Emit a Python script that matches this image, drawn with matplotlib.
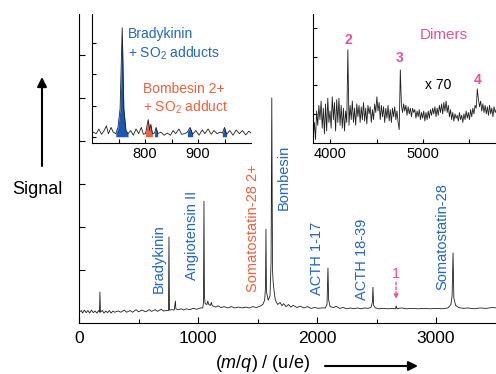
import matplotlib
matplotlib.use("Agg")
import matplotlib.pyplot as plt
import numpy as np

plt.rcParams['font.family'] = ['Liberation Sans', 'DejaVu Sans']
plt.rcParams['mathtext.fontset'] = 'custom'
plt.rcParams['mathtext.rm'] = 'Liberation Sans'
plt.rcParams['mathtext.it'] = 'Liberation Sans:italic'

BLUE = '#2266c4'
FILLBLUE = '#1a58b8'
ORANGE = '#f2603c'
PINK = '#ec4f9f'

# main spectrum (m/z, signal)
main_mz = [0, 20, 30, 45, 60, 75, 90, 105, 120, 135, 150, 165, 172, 176, 180, 195, 210, 225, 240,
           255, 270, 285, 300, 330, 350, 380, 400, 430, 450, 480, 500, 530, 560, 590, 610, 640,
           660, 690, 710, 740, 752, 756, 760, 780, 800, 806, 810, 814, 830, 860, 880, 900, 930,
           960, 990, 1020, 1040, 1046, 1050, 1054, 1060, 1075, 1082, 1090, 1105, 1112, 1120,
           1150, 1170, 1190, 1220, 1250, 1280, 1310, 1340, 1370, 1400, 1430, 1460, 1490, 1520,
           1545, 1560, 1567, 1571, 1575, 1590, 1605, 1614, 1620, 1626, 1632, 1640, 1650, 1670,
           1690, 1705, 1720, 1740, 1760, 1780, 1800, 1830, 1860, 1890, 1920, 1950, 1980, 2010,
           2040, 2070, 2084, 2092, 2098, 2110, 2140, 2160, 2190, 2220, 2250, 2280, 2310, 2340,
           2370, 2400, 2430, 2455, 2465, 2470, 2476, 2490, 2520, 2560, 2600, 2640, 2660, 2665,
           2672, 2710, 2750, 2800, 2850, 2900, 2950, 3000, 3050, 3100, 3125, 3135, 3143, 3150,
           3165, 3190, 3230, 3270, 3320, 3370, 3420, 3470, 3510]
main_sig = [0.02, 0.06, 0.0, 0.07, 0.01, 0.06, 0.0, 0.07, 0.01, 0.05, 0.0, 0.06, 0.02, 0.49, 0.02,
            0.06, 0.0, 0.05, 0.01, 0.06, 0.0, 0.05, 0.02, 0.05, 0.02, 0.07, 0.02, 0.06, 0.02, 0.08,
            0.03, 0.07, 0.03, 0.08, 0.04, 0.08, 0.04, 0.09, 0.05, 0.06, 0.06, 1.77, 0.07, 0.08,
            0.07, 0.2, 0.28, 0.1, 0.08, 0.1, 0.07, 0.1, 0.08, 0.11, 0.09, 0.12, 0.12, 0.25, 2.6,
            0.4, 0.22, 0.2, 0.28, 0.2, 0.18, 0.25, 0.17, 0.14, 0.17, 0.13, 0.15, 0.12, 0.15, 0.12,
            0.14, 0.12, 0.14, 0.12, 0.15, 0.13, 0.16, 0.2, 0.3, 0.6, 1.95, 0.5, 0.3, 0.4, 1.2, 5.0,
            1.0, 0.7, 0.5, 0.3, 0.2, 0.25, 0.17, 0.22, 0.15, 0.2, 0.14, 0.18, 0.13, 0.16, 0.12,
            0.15, 0.11, 0.13, 0.11, 0.12, 0.12, 0.2, 1.05, 0.3, 0.15, 0.13, 0.16, 0.11, 0.13, 0.1,
            0.12, 0.1, 0.12, 0.1, 0.12, 0.11, 0.14, 0.25, 0.6, 0.18, 0.12, 0.1, 0.11, 0.1, 0.11,
            0.1, 0.17, 0.1, 0.12, 0.1, 0.11, 0.1, 0.11, 0.1, 0.11, 0.1, 0.12, 0.2, 0.4, 1.4, 0.35,
            0.18, 0.13, 0.11, 0.12, 0.1, 0.12, 0.11, 0.13, 0.12]

# peak labels in the main panel
lab_text = ['Bradykinin', 'Angiotensin II', 'Somatostatin-28 2+', 'Bombesin',
            'ACTH 1-17', 'ACTH 18-39', 'Somatostatin-28']
lab_mz = [672, 950, 1462, 1723, 2000, 2378, 3050]
lab_y = [0.47, 0.77, 0.49, 2.4, 0.42, 0.3, 0.53]
lab_col = [BLUE, BLUE, ORANGE, BLUE, BLUE, BLUE, BLUE]

# inset 1: zoom on 700-1000
in1_mz = [702, 708, 713, 718, 723, 727, 731, 736, 740, 745, 749, 753, 757, 760, 764, 768, 773, 778,
          783, 788, 793, 797, 801, 806, 809, 811, 814, 818, 821, 824, 830, 836, 842, 848, 853, 858,
          864, 869, 875, 880, 885, 890, 896, 902, 908, 913, 919, 925, 930, 936, 942, 946, 950, 954,
          960, 966, 972, 978, 984, 990, 996, 1000]
in1_sig = [0.15, 0.1, 0.25, 0.08, 0.2, 0.35, 0.1, 0.3, 0.15, 0.1, 0.3, 0.9, 3.5, 0.9, 0.2, 0.1,
           0.2, 0.05, 0.25, 0.1, 0.3, 0.08, 0.1, 0.55, 0.2, 0.4, 0.1, 0.12, 0.3, 0.1, 0.15, 0.05,
           0.12, 0.05, 0.2, 0.1, 0.25, 0.08, 0.1, 0.15, 0.3, 0.08, 0.2, 0.05, 0.22, 0.1, 0.25, 0.08,
           0.2, 0.1, 0.15, 0.12, 0.3, 0.08, 0.2, 0.05, 0.22, 0.1, 0.2, 0.06, 0.18, 0.12]
fill_lo = [745, 801, 815, 838, 878, 944]
fill_hi = [768, 814, 825, 846, 891, 955]
fill_col = [FILLBLUE, ORANGE, FILLBLUE, ORANGE, FILLBLUE, FILLBLUE]

# inset 2: dimers region, x 70, sampled every 12 u/e from 3820
in2_start = 3820
in2_step = 12
in2_sig = [-0.8, -0.3, -0.9, 0.1, -0.4, 0.3, -0.2, 0.45, -0.5, 0.2, -0.7, 0.35, -0.6, 0.55, -0.3,
           0.1, -0.5, 0.6, -0.2, 0.4, -0.6, 0.5, -0.3, 0.55, -0.4, 0.3, -0.5, 0.2, -0.6, 0.1, -0.3,
           2.25, -0.4, 0.3, -0.2, 0.45, -0.3, 0.2, -0.4, 0.35, -0.1, 0.3, -0.3, 0.25, -0.2, 0.4,
           -0.25, 0.2, -0.35, 0.3, 0.0, 0.25, -0.3, 0.15, -0.2, 0.35, 0.05, 0.6, 0.1, 0.4, -0.2,
           0.3, -0.1, 0.25, -0.3, 0.2, -0.15, 0.3, -0.25, 0.15, -0.3, 0.2, -0.1, 0.25, -0.2, 0.1,
           -0.3, -0.55, 1.54, 0.3, 0.05, 0.35, 0.1, 0.3, -0.05, 0.25, 0.0, 0.2, -0.1, 0.2, 0.05,
           0.15, -0.15, 0.1, -0.1, 0.15, -0.2, 0.05, -0.15, 0.1, -0.25, 0.05, -0.2, 0.1, -0.15,
           0.15, -0.05, 0.2, 0.0, 0.25, -0.1, 0.2, -0.05, 0.3, 0.05, 0.35, 0.0, 0.4, 0.1, 0.45,
           0.05, 0.3, -0.1, 0.15, -0.2, 0.05, -0.25, 0.0, -0.15, -0.05, -0.25, 0.05, -0.2, -0.05,
           -0.3, 0.0, -0.2, 0.1, -0.15, 0.05, -0.2, 0.15, -0.1, 0.2, 0.0, 0.3, 0.2, 0.88, 0.5, 0.25,
           0.45, 0.1, 0.35, 0.05, 0.3, 0.0, 0.25, -0.05, 0.3, 0.0, 0.2, -0.1, 0.25, 0.05, 0.15]
dimer_lab = ['2', '3', '4']
dimer_mz = [4194, 4753, 5591]
dimer_y = [2.6, 1.95, 1.2]

W, H = 496, 374


def fx(x):
    return x / W


def fy(y):
    return 1 - y / H


fig = plt.figure(figsize=(W / 100, H / 100), dpi=100)

# ---- main panel
ax = fig.add_axes([fx(79), fy(323), 1 - fx(79), (323 - 14) / H])
ax.plot(main_mz, main_sig, color='#1e1e1e', lw=0.6)
ax.set_xlim(0, 3504)
ax.set_ylim(-0.23, 6.95)
ax.set_xticks([0, 1000, 2000, 3000])
ax.set_xticks([500, 1500, 2500], minor=True)
ax.set_yticks([1, 2, 3, 4, 5, 6])
ax.set_yticklabels([])
ax.tick_params(direction='in', length=4, width=0.8, labelsize=12.5, pad=6)
ax.tick_params(which='minor', direction='in', length=3, width=0.8)
ax.spines['top'].set_visible(False)
ax.spines['right'].set_visible(False)

for t, x, y, c in zip(lab_text, lab_mz, lab_y, lab_col):
    ax.text(x, y, t, rotation=90, ha='center', va='bottom', color=c, fontsize=10.5)

# dashed pink marker "1"
ax.text(2664, 0.9, '1', color=PINK, ha='center', va='center', fontsize=10.5)
ax.annotate('', xy=(2664, 0.33), xytext=(2664, 0.72),
            arrowprops=dict(arrowstyle='-|>', color=PINK, lw=1, ls=(0, (2, 1.5)),
                            mutation_scale=6, shrinkA=0, shrinkB=0))

# ---- inset 1
a1 = fig.add_axes([fx(92), fy(143), (251 - 92) / W, (143 - 14) / H])
a1.plot(in1_mz, in1_sig, color='#1e1e1e', lw=0.6)
x1 = np.array(in1_mz)
y1 = np.array(in1_sig)
for lo, hi, c in zip(fill_lo, fill_hi, fill_col):
    m = (x1 >= lo) & (x1 <= hi)
    a1.fill_between(x1[m], y1[m], 0, color=c, lw=0)
a1.set_xlim(700, 1000)
a1.set_ylim(-0.2, 3.94)
a1.set_xticks([800, 900])
a1.set_xticks([750, 850, 950], minor=True)
a1.set_yticks([0, 1, 2, 3])
a1.set_yticklabels([])
a1.tick_params(direction='in', length=3, width=0.8, labelsize=10.5, pad=3)
a1.tick_params(which='minor', direction='in', length=3, width=0.8)
a1.spines['top'].set_visible(False)
a1.spines['right'].set_visible(False)
a1.patch.set_alpha(0)

fig.text(fx(128), fy(27), 'Bradykinin', color=BLUE, fontsize=10, va='top')
fig.text(fx(128), fy(45), '+ SO$_2$ adducts', color=BLUE, fontsize=10, va='top')
fig.text(fx(143), fy(82), 'Bombesin 2+', color=ORANGE, fontsize=10, va='top')
fig.text(fx(143), fy(99), '+ SO$_2$ adduct', color=ORANGE, fontsize=10, va='top')

# ---- inset 2
a2 = fig.add_axes([fx(313), fy(143), 1 - fx(313), (143 - 14) / H])
x2 = in2_start + in2_step * np.arange(len(in2_sig))
a2.plot(x2, in2_sig, color='#1e1e1e', lw=0.6)
a2.set_xlim(3817, 5785)
a2.set_ylim(-1.02, 3.5)
a2.set_xticks([4000, 5000])
a2.set_xticks([4500, 5500], minor=True)
a2.set_yticks([0, 1, 2, 3])
a2.set_yticklabels([])
a2.tick_params(direction='in', length=3, width=0.8, labelsize=10.5, pad=3)
a2.tick_params(which='minor', direction='in', length=3, width=0.8)
a2.spines['top'].set_visible(False)
a2.spines['right'].set_visible(False)
a2.patch.set_alpha(0)

for t, x, y in zip(dimer_lab, dimer_mz, dimer_y):
    a2.text(x, y, t, color=PINK, ha='center', va='center', fontsize=10, fontweight='bold')
fig.text(fx(444), fy(35), 'Dimers', color=PINK, ha='center', va='center', fontsize=11)
fig.text(fx(438), fy(85), 'x 70', color='black', ha='center', va='center', fontsize=10)

# ---- axis captions with arrows
fig.text(fx(37), fy(190), 'Signal', ha='center', va='center', fontsize=13)
ax.annotate('', xy=(fx(42), fy(77)), xytext=(fx(42), fy(166)),
            xycoords='figure fraction', textcoords='figure fraction',
            arrowprops=dict(arrowstyle='-|>', color='black', lw=1.5, mutation_scale=14,
                            shrinkA=0, shrinkB=0))
fig.text(fx(262), fy(363), '($\\it{m/q}$) / (u/e)', ha='center', va='center', fontsize=13)
ax.annotate('', xy=(fx(418), fy(366)), xytext=(fx(325), fy(366)),
            xycoords='figure fraction', textcoords='figure fraction',
            arrowprops=dict(arrowstyle='-|>', color='black', lw=1.5, mutation_scale=14,
                            shrinkA=0, shrinkB=0))

fig.savefig('out.png', dpi=100)
